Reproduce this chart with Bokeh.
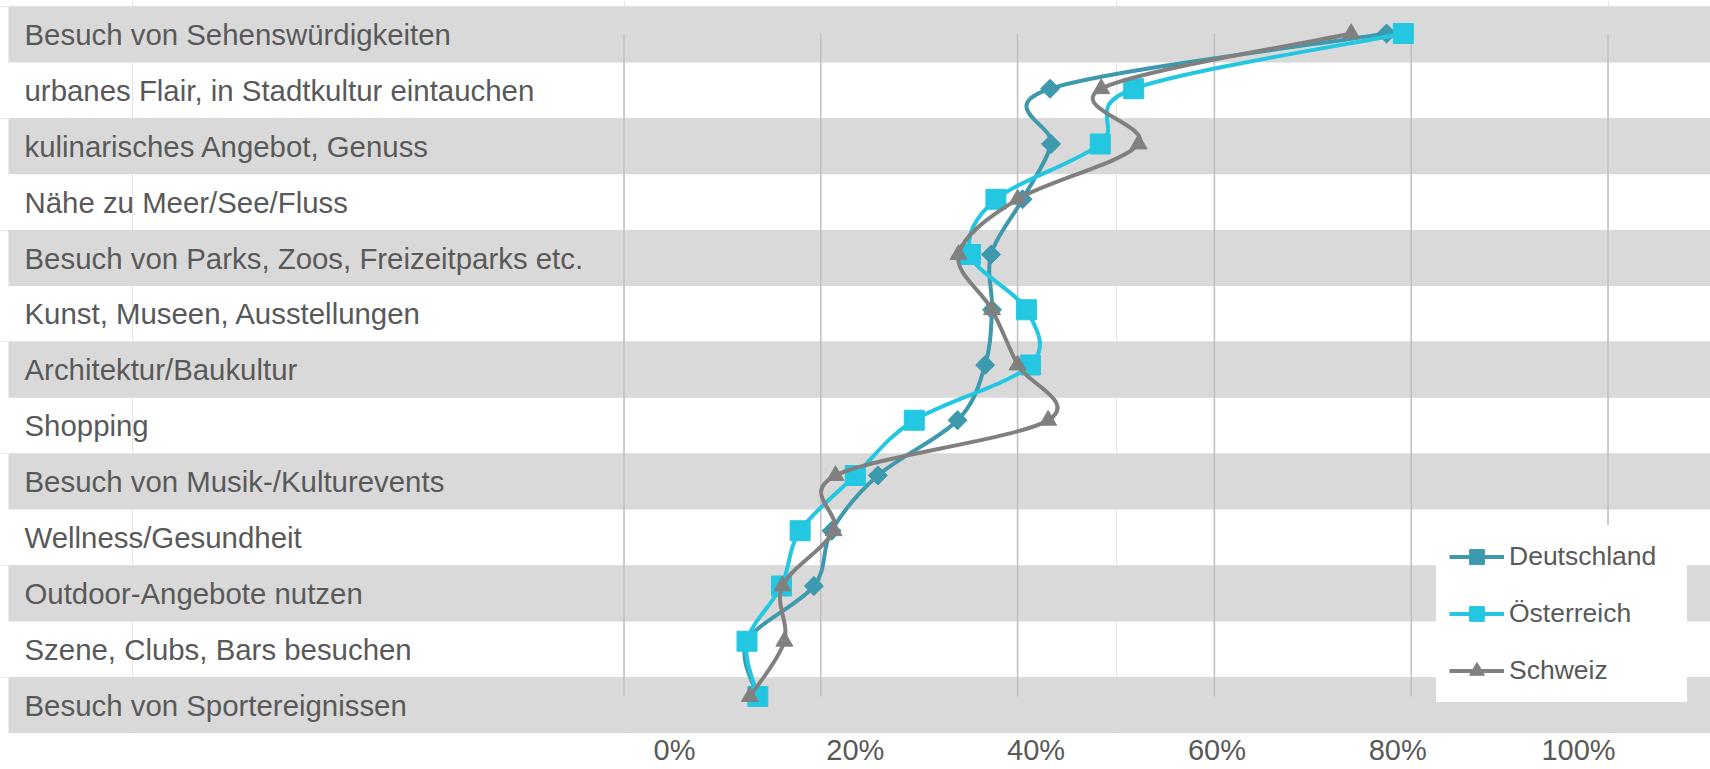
from bokeh.plotting import figure
from bokeh.models import (Range1d, LinearAxis, FixedTicker, NumeralTickFormatter,
                          Legend, LegendItem)
from bokeh.core.properties import value
from bokeh.embed import file_html
from bokeh.resources import INLINE
import math

# ---------------- data ----------------
categories = [
    "Besuch von Sehenswürdigkeiten",
    "urbanes Flair, in Stadtkultur eintauchen",
    "kulinarisches Angebot, Genuss",
    "Nähe zu Meer/See/Fluss",
    "Besuch von Parks, Zoos, Freizeitparks etc.",
    "Kunst, Museen, Ausstellungen",
    "Architektur/Baukultur",
    "Shopping",
    "Besuch von Musik-/Kulturevents",
    "Wellness/Gesundheit",
    "Outdoor-Angebote nutzen",
    "Szene, Clubs, Bars besuchen",
    "Besuch von Sportereignissen",
]
deutschland = [0.775, 0.433, 0.434, 0.405, 0.373, 0.374, 0.367, 0.339, 0.258, 0.211, 0.193, 0.125, 0.136]
oesterreich = [0.792, 0.518, 0.484, 0.378, 0.352, 0.409, 0.413, 0.295, 0.235, 0.179, 0.160, 0.125, 0.136]
schweiz     = [0.739, 0.485, 0.523, 0.400, 0.340, 0.374, 0.400, 0.431, 0.215, 0.213, 0.161, 0.163, 0.128]
series_names = ["Deutschland", "Österreich", "Schweiz"]
tick_values = [0, 0.2, 0.4, 0.6, 0.8, 1.0]

# ---------------- styling / layout ----------------
TEXT = "#595959"
BAND = "#D9D9D9"
GRID = "#BFBFBF"
COLORS = ["#3D99AD", "#23C7E1", "#808080"]
FONT = "Liberation Sans"

W, H = 1710, 769
FRAME_H = 733
PX_PER_UNIT = 984.0          # pixels per 100 %
ZERO_PX = 623.5              # pixel position of 0 %
X_START = -ZERO_PX / PX_PER_UNIT
X_END = (W - ZERO_PX) / PX_PER_UNIT
BAND_LEFT = X_START + 8 / PX_PER_UNIT
n = len(categories)

p = figure(width=W, height=H,
           x_range=Range1d(X_START, X_END), y_range=Range1d(13.005, -0.1073),
           x_axis_location=None, y_axis_location=None,
           toolbar_location=None, output_backend="svg",
           min_border=0, min_border_bottom=H - FRAME_H, outline_line_color=None)
p.extra_y_ranges = {"lines": Range1d(12.6697, -0.5973)}
p.extra_x_ranges = {"ticks": Range1d(-674 / 904.0, (W - 674) / 904.0)}

# alternating bands
band_rows = [i for i in range(n) if i % 2 == 0]
p.hbar(y=[i + 0.5 for i in band_rows], height=1, left=BAND_LEFT, right=X_END,
       fill_color=BAND, line_color=None)

# vertical gridlines
p.segment(x0=tick_values, x1=tick_values, y0=[0] * len(tick_values),
          y1=[n - 1] * len(tick_values), y_range_name="lines",
          line_color=GRID, line_width=1.5)

# category labels
p.text(x=[X_START] * n, y=[i + 0.5 for i in range(n)], text=categories,
       x_offset=24, text_baseline="middle", text_align="left",
       text_font=value(FONT), text_font_size="29.4px", text_color=TEXT)


def smooth(xs, ys):
    """Bezier control points (Catmull-Rom style) between consecutive points."""
    m = len(xs)
    out = {k: [] for k in ("x0", "y0", "x1", "y1", "cx0", "cy0", "cx1", "cy1")}
    for i in range(m - 1):
        ip = max(i - 1, 0)
        inn = min(i + 2, m - 1)
        out["x0"].append(xs[i]); out["y0"].append(ys[i])
        out["x1"].append(xs[i + 1]); out["y1"].append(ys[i + 1])
        out["cx0"].append(xs[i] + (xs[i + 1] - xs[ip]) / 6.0)
        out["cy0"].append(ys[i] + (ys[i + 1] - ys[ip]) / 6.0)
        out["cx1"].append(xs[i + 1] - (xs[inn] - xs[i]) / 6.0)
        out["cy1"].append(ys[i + 1] - (ys[inn] - ys[i]) / 6.0)
    return out


rows = list(range(n))
markers = [("square", 13.5, math.pi / 4), ("square", 20, 0), ("triangle", 17, 0)]
items = []
for name, vals, col, (mk, sz, ang) in zip(series_names, [deutschland, oesterreich, schweiz], COLORS, markers):
    seg = smooth(vals, rows)
    bz = p.bezier(**seg, line_color=col, line_width=4, y_range_name="lines")
    sc = p.scatter(x=vals, y=rows, marker=mk, size=sz, angle=ang,
                   fill_color=col, line_color=col, y_range_name="lines")
    items.append(LegendItem(label=name, renderers=[bz, sc]))

legend = Legend(items=items, location=(1436, FRAME_H - 702), glyph_width=55, glyph_height=37,
                label_height=37, label_width=165, label_standoff=5, spacing=20,
                padding=12, margin=0, background_fill_color="white",
                background_fill_alpha=1.0, border_line_color="white",
                border_line_width=1,
                label_text_font=FONT, label_text_font_size="26.5px",
                label_text_color=TEXT)
p.add_layout(legend)

ax = LinearAxis(x_range_name="ticks", ticker=FixedTicker(ticks=tick_values),
                formatter=NumeralTickFormatter(format="0%"))
ax.axis_line_color = None
ax.major_tick_line_color = None
ax.minor_tick_line_color = None
ax.major_tick_out = 0
ax.major_tick_in = 0
ax.major_label_standoff = 0
ax.major_label_text_font = FONT
ax.major_label_text_font_size = "29px"
ax.major_label_text_color = TEXT
p.add_layout(ax, "below")

open("out.html", "w").write(file_html(p, INLINE))
